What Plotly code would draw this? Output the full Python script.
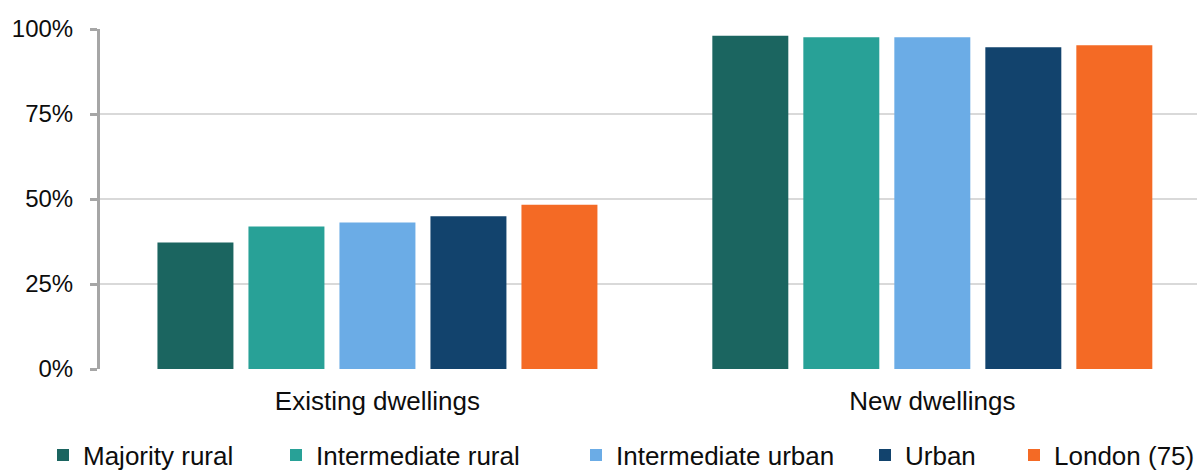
import plotly.graph_objects as go

categories = ["Existing dwellings", "New dwellings"]
series_names = ["Majority rural", "Intermediate rural", "Intermediate urban", "Urban", "London (75)"]
majority_rural = [37.2, 98.0]
intermediate_rural = [41.9, 97.6]
intermediate_urban = [43.1, 97.6]
urban = [44.9, 94.6]
london = [48.3, 95.2]
colors = ["#1B6560", "#28A197", "#6BACE6", "#12436D", "#F46A25"]
y_ticks = [0, 25, 50, 75, 100]
y_tick_labels = ["0%", "25%", "50%", "75%", "100%"]

values = [majority_rural, intermediate_rural, intermediate_urban, urban, london]
legend_text_px = [83, 316, 616, 905, 1054]

W, H = 1197, 470
ML, MR, MT, MB = 100, 0, 29, 101
plot_w = W - ML - MR
plot_h = H - MT - MB
FONT = "Arial, Liberation Sans, sans-serif"

fig = go.Figure()
legend_layouts = {}
for i, (name, vals, col) in enumerate(zip(series_names, values, colors)):
    lname = "legend" if i == 0 else f"legend{i+1}"
    fig.add_trace(go.Bar(
        x=categories, y=vals, name=name, marker_color=col,
        marker_line_width=0, legend=lname,
    ))
    xpx = legend_text_px[i] - 40
    legend_layouts[lname] = dict(
        x=(xpx - ML) / plot_w, xanchor="left",
        y=(MT + plot_h - 455) / plot_h, yanchor="middle",
        orientation="h", bgcolor="rgba(0,0,0,0)", borderwidth=0,
        font=dict(family=FONT, size=26, color="#0D0D0D"),
    )

fig.update_layout(
    width=W, height=H,
    margin=dict(l=ML, r=MR, t=MT, b=MB, autoexpand=False),
    paper_bgcolor="white", plot_bgcolor="white",
    barmode="group", bargap=0.18, bargroupgap=0.165,
    showlegend=True,
    font=dict(family=FONT, color="#0D0D0D"),
    **legend_layouts,
)
fig.update_xaxes(
    type="category", range=[-0.5, 1.477],
    showline=False, showgrid=False, ticks="",
    tickfont=dict(family=FONT, size=26, color="#0D0D0D"),
    ticklabelstandoff=14,
)
fig.update_yaxes(
    range=[0, 100], tickvals=y_ticks, ticktext=y_tick_labels,
    showgrid=True, gridcolor="#D9D9D9", gridwidth=2,
    zeroline=False,
    showline=True, linecolor="#A6A6A6", linewidth=3,
    ticks="outside", ticklen=7, tickwidth=3, tickcolor="#A6A6A6",
    tickfont=dict(family=FONT, size=24, color="#0D0D0D"),
    ticklabelstandoff=12,
)

fig.write_html("out.html")
